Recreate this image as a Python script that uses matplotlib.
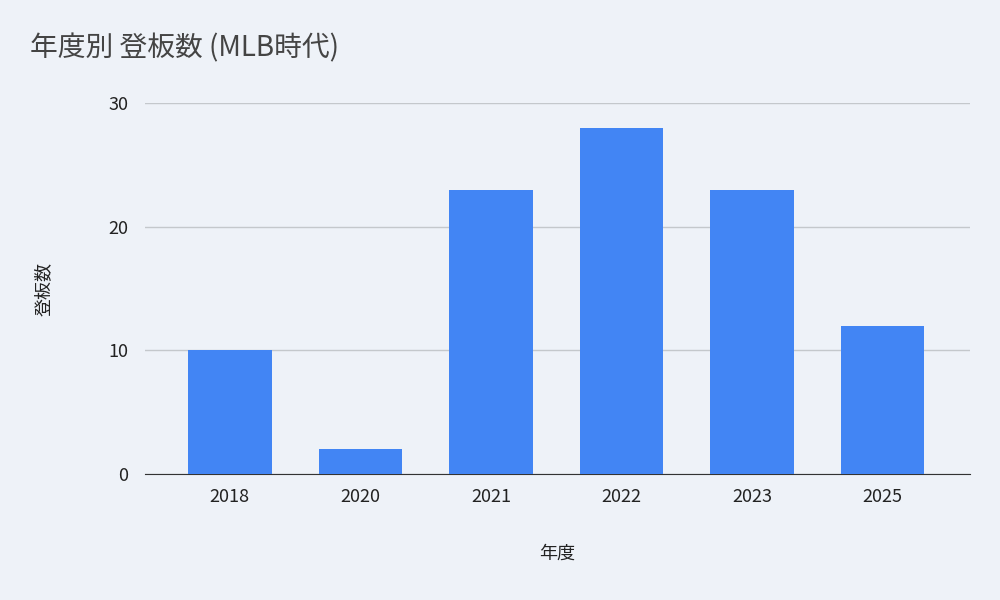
import matplotlib
matplotlib.use("Agg")
import matplotlib.pyplot as plt

plt.rcParams["font.family"] = ["Noto Sans CJK JP", "DejaVu Sans"]

YEARS = ["2018", "2020", "2021", "2022", "2023", "2025"]
APPEARANCES = [10, 2, 23, 28, 23, 12]

BG = "#eef2f8"
BAR = "#4285f4"

fig = plt.figure(figsize=(10, 6), dpi=100, facecolor=BG)
ax = fig.add_axes([0.145, 0.21, 0.825, 0.618], facecolor=BG)

x = list(range(len(YEARS)))
ax.bar(x, APPEARANCES, width=0.64, color=BAR, zorder=3)
ax.set_xlim(-0.65, 5.67)
ax.set_ylim(0, 30)
ax.set_yticks([0, 10, 20, 30])
ax.set_xticks(x)
ax.set_xticklabels(YEARS)
ax.grid(axis="y", color="#c4c8cc", linewidth=1, zorder=0)
for s in ["top", "right", "left"]:
    ax.spines[s].set_visible(False)
ax.spines["bottom"].set_color("#333333")
ax.tick_params(length=0, labelsize=13, colors="#222222")
ax.tick_params(axis="x", pad=10)
ax.tick_params(axis="y", pad=12)

ax.set_xlabel("年度", fontsize=13, color="#222222", labelpad=28)
ax.set_ylabel("登板数", fontsize=13, color="#222222", labelpad=40)
fig.text(0.03, 0.92, "年度別 登板数 (MLB時代)", fontsize=20, color="#444444", va="center")

fig.savefig("out.png", dpi=100, facecolor=BG)
